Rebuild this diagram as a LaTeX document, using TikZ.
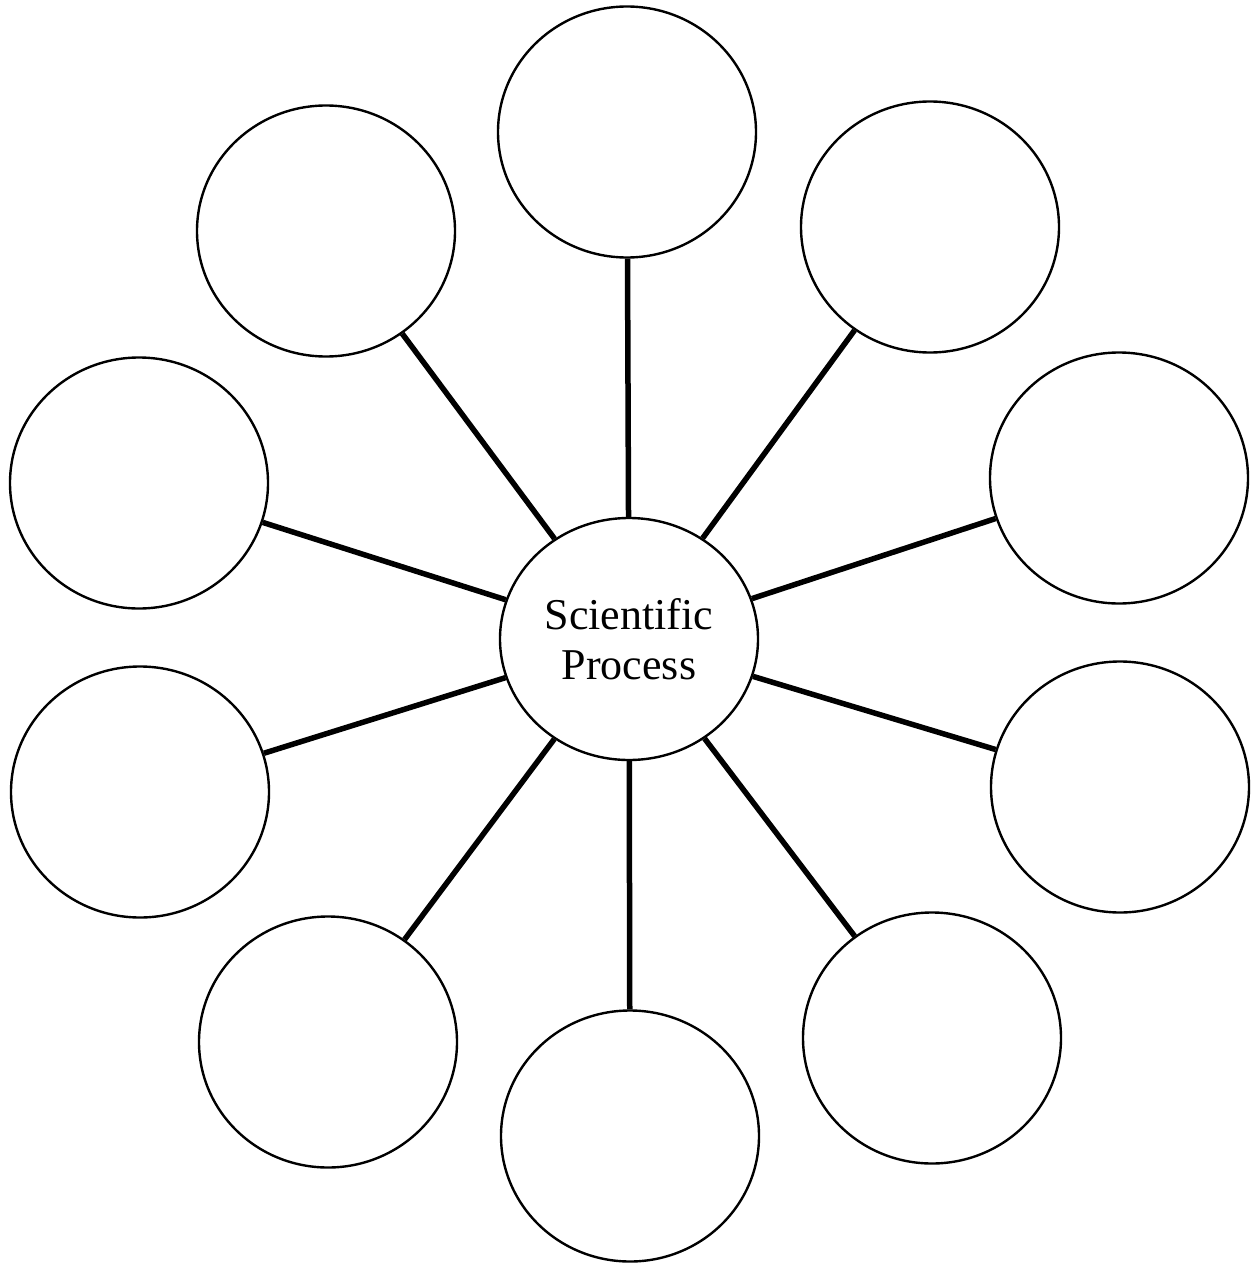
\documentclass[tikz,border=0pt]{standalone}
\usepackage{fontspec}
\setmainfont{Liberation Serif}
\usetikzlibrary{shapes.geometric}
\begin{document}
\begin{tikzpicture}[x=1pt,y=-1pt,
  bubble/.style={ellipse,draw,line width=2.4pt,minimum width=258pt,minimum height=251pt,inner sep=0pt},
  hub/.style={ellipse,draw,line width=2.4pt,minimum width=258pt,minimum height=242pt,inner sep=0pt,align=center,font=\fontsize{44}{50}\selectfont},
  spoke/.style={line width=5.5pt}]
\useasboundingbox (0,0) rectangle (1255,1263);
\node[hub] (c) at (629,639) {Scientific\\Process};
\node[bubble] (o1) at (627,132) {};
\node[bubble] (o2) at (930,227) {};
\node[bubble] (o3) at (1119,478) {};
\node[bubble] (o4) at (1120,787) {};
\node[bubble] (o5) at (932,1038) {};
\node[bubble] (o6) at (630,1136) {};
\node[bubble] (o7) at (328,1042) {};
\node[bubble] (o8) at (140,792) {};
\node[bubble] (o9) at (139,483) {};
\node[bubble] (o10) at (326,231) {};
\foreach \i in {1,...,10} \draw[spoke] (c) -- (o\i);
\end{tikzpicture}
\end{document}
